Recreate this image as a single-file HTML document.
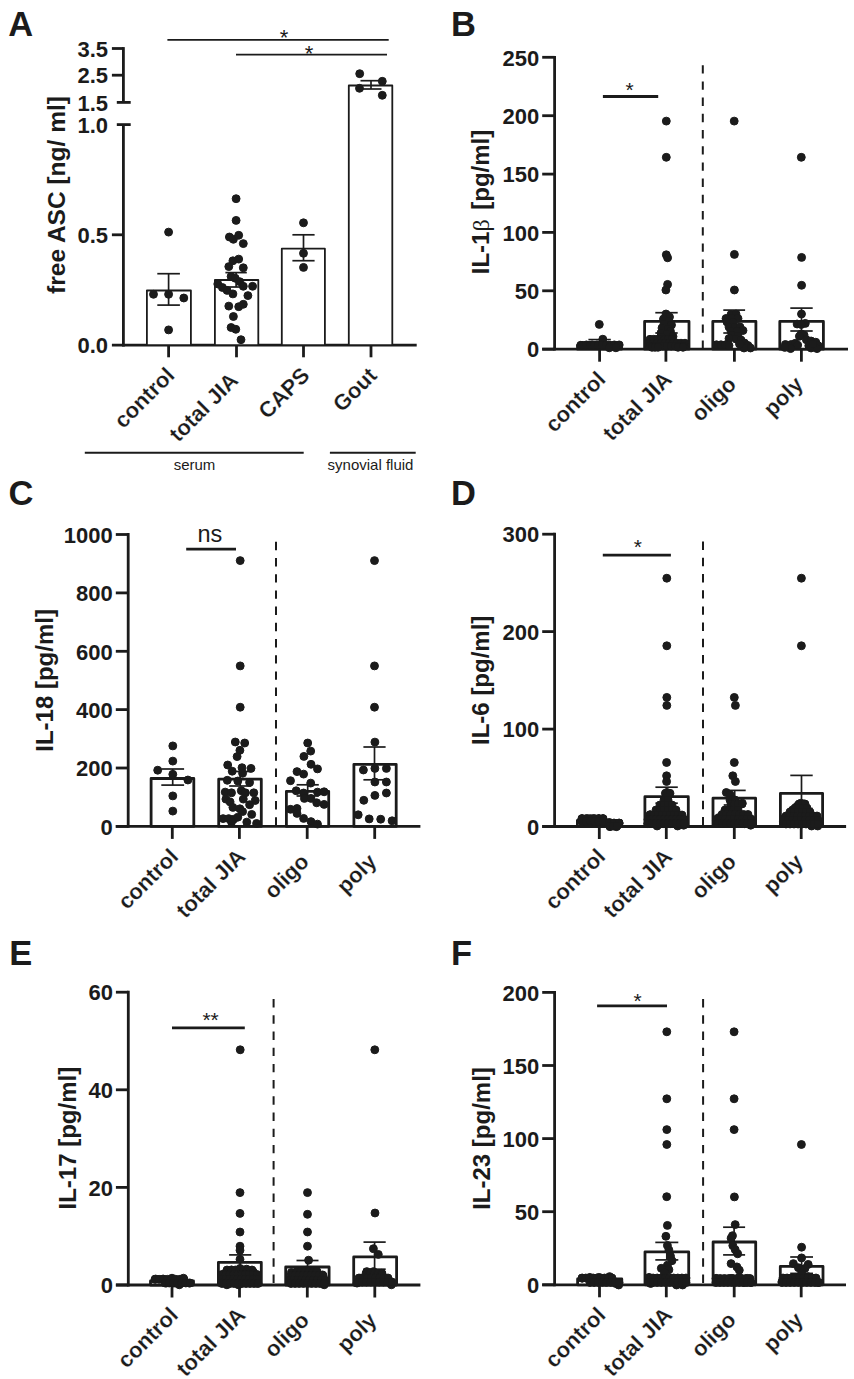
<!DOCTYPE html>
<html><head><meta charset="utf-8"><style>
html,body{margin:0;padding:0;background:#fff;}
svg{display:block;}
text{font-family:"Liberation Sans",sans-serif;fill:#1b1b1b;stroke:none;}
.xl{stroke:#fff;stroke-width:0.2px;}
</style></head><body>
<svg width="854" height="1379" viewBox="0 0 854 1379">
<rect width="854" height="1379" fill="#fff"/>
<g stroke="#1b1b1b" fill="#1b1b1b">
<text x="8.2" y="35.8" font-size="34.5" font-weight="bold">A</text>
<line x1="123.4" y1="47.1" x2="123.4" y2="102.4" stroke-width="2.8" />
<line x1="111.9" y1="48.5" x2="123.4" y2="48.5" stroke-width="2.8" />
<text x="108.0" y="56.7" font-size="22" text-anchor="end" font-weight="bold" >3.5</text>
<line x1="111.9" y1="75.2" x2="123.4" y2="75.2" stroke-width="2.8" />
<text x="108.0" y="83.4" font-size="22" text-anchor="end" font-weight="bold" >2.5</text>
<line x1="116.8" y1="102.4" x2="130.7" y2="102.4" stroke-width="2.8" />
<text x="108.0" y="110.6" font-size="22" text-anchor="end" font-weight="bold" >1.5</text>
<line x1="116.8" y1="124.6" x2="130.7" y2="124.6" stroke-width="2.8" />
<text x="108.0" y="132.8" font-size="22" text-anchor="end" font-weight="bold" >1.0</text>
<line x1="123.4" y1="124.6" x2="123.4" y2="346.6" stroke-width="2.8" />
<line x1="111.9" y1="234.8" x2="123.4" y2="234.8" stroke-width="2.8" />
<text x="108.0" y="243.0" font-size="22" text-anchor="end" font-weight="bold" >0.5</text>
<line x1="111.9" y1="345.2" x2="416.7" y2="345.2" stroke-width="2.8" />
<text x="108.0" y="353.4" font-size="22" text-anchor="end" font-weight="bold" >0.0</text>
<line x1="168.6" y1="345.2" x2="168.6" y2="357.3" stroke-width="2.8" />
<line x1="236.5" y1="345.2" x2="236.5" y2="357.3" stroke-width="2.8" />
<line x1="303.5" y1="345.2" x2="303.5" y2="357.3" stroke-width="2.8" />
<line x1="371.0" y1="345.2" x2="371.0" y2="357.3" stroke-width="2.8" />
<text transform="translate(65.0,195.0) rotate(-90)" font-size="24.5" font-weight="bold" text-anchor="middle" >free ASC [ng/ ml]</text>
<rect x="146.9" y="290.5" width="44.0" height="54.7" fill="#fff" stroke="#1b1b1b" stroke-width="1.8" stroke-linejoin="round"/>
<rect x="214.9" y="280.0" width="43.4" height="65.2" fill="#fff" stroke="#1b1b1b" stroke-width="1.8" stroke-linejoin="round"/>
<rect x="281.8" y="248.7" width="43.1" height="96.5" fill="#fff" stroke="#1b1b1b" stroke-width="1.8" stroke-linejoin="round"/>
<rect x="348.8" y="85.5" width="43.5" height="259.7" fill="#fff" stroke="#1b1b1b" stroke-width="1.8" stroke-linejoin="round"/>
<line x1="168.6" y1="273.7" x2="168.6" y2="305.1" stroke-width="1.7" />
<line x1="157.3" y1="273.7" x2="179.9" y2="273.7" stroke-width="1.7" />
<line x1="157.3" y1="305.1" x2="179.9" y2="305.1" stroke-width="1.7" />
<line x1="236.1" y1="272.6" x2="236.1" y2="287.0" stroke-width="1.7" />
<line x1="225.4" y1="272.6" x2="246.8" y2="272.6" stroke-width="1.7" />
<line x1="225.4" y1="287.0" x2="246.8" y2="287.0" stroke-width="1.7" />
<line x1="303.5" y1="234.8" x2="303.5" y2="260.7" stroke-width="1.7" />
<line x1="292.4" y1="234.8" x2="314.6" y2="234.8" stroke-width="1.7" />
<line x1="292.4" y1="260.7" x2="314.6" y2="260.7" stroke-width="1.7" />
<line x1="371.0" y1="80.7" x2="371.0" y2="89.0" stroke-width="1.7" />
<line x1="360.5" y1="80.7" x2="381.5" y2="80.7" stroke-width="1.7" />
<line x1="360.5" y1="89.0" x2="381.5" y2="89.0" stroke-width="1.7" />
<circle cx="168.6" cy="232.1" r="3.95"/>
<circle cx="153.5" cy="294.3" r="3.95"/>
<circle cx="168.6" cy="294.3" r="3.95"/>
<circle cx="183.8" cy="298.0" r="3.95"/>
<circle cx="168.6" cy="329.9" r="3.95"/>
<circle cx="303.5" cy="222.8" r="3.95"/>
<circle cx="303.5" cy="253.3" r="3.95"/>
<circle cx="303.5" cy="267.4" r="3.95"/>
<circle cx="359.7" cy="73.7" r="3.95"/>
<circle cx="382.3" cy="81.3" r="3.95"/>
<circle cx="359.5" cy="88.3" r="3.95"/>
<circle cx="382.3" cy="95.3" r="3.95"/>
<circle cx="236.1" cy="198.7" r="3.95"/>
<circle cx="236.1" cy="220.4" r="3.95"/>
<circle cx="229.4" cy="237.0" r="3.95"/>
<circle cx="233.4" cy="239.3" r="3.95"/>
<circle cx="238.7" cy="235.3" r="3.95"/>
<circle cx="243.3" cy="243.6" r="3.95"/>
<circle cx="232.9" cy="260.8" r="3.95"/>
<circle cx="238.7" cy="259.1" r="3.95"/>
<circle cx="228.8" cy="266.6" r="3.95"/>
<circle cx="243.3" cy="267.8" r="3.95"/>
<circle cx="231.1" cy="276.5" r="3.95"/>
<circle cx="235.2" cy="278.2" r="3.95"/>
<circle cx="239.8" cy="281.7" r="3.95"/>
<circle cx="243.3" cy="286.3" r="3.95"/>
<circle cx="217.8" cy="284.0" r="3.95"/>
<circle cx="222.4" cy="287.5" r="3.95"/>
<circle cx="227.1" cy="290.4" r="3.95"/>
<circle cx="232.9" cy="293.9" r="3.95"/>
<circle cx="252.6" cy="286.3" r="3.95"/>
<circle cx="247.9" cy="295.6" r="3.95"/>
<circle cx="228.8" cy="306.1" r="3.95"/>
<circle cx="238.7" cy="306.7" r="3.95"/>
<circle cx="243.3" cy="304.3" r="3.95"/>
<circle cx="233.4" cy="316.5" r="3.95"/>
<circle cx="231.1" cy="327.5" r="3.95"/>
<circle cx="235.8" cy="329.3" r="3.95"/>
<circle cx="241.0" cy="339.7" r="3.95"/>
<line x1="167.4" y1="39.9" x2="388.7" y2="39.9" stroke-width="1.9" />
<text x="284.1" y="44.8" font-size="22" text-anchor="middle" font-weight="normal" >*</text>
<line x1="236.0" y1="54.6" x2="387.0" y2="54.6" stroke-width="1.9" />
<text x="309.0" y="61.0" font-size="22" text-anchor="middle" font-weight="normal" >*</text>
<text transform="translate(175.9,376.7) rotate(-45)" font-size="22" font-weight="bold" text-anchor="end" class="xl">control</text>
<text transform="translate(239.6,381.7) rotate(-45)" font-size="22" font-weight="bold" text-anchor="end" class="xl">total JIA</text>
<text transform="translate(310.8,376.7) rotate(-45)" font-size="22" font-weight="bold" text-anchor="end" class="xl">CAPS</text>
<text transform="translate(378.3,376.7) rotate(-45)" font-size="22" font-weight="bold" text-anchor="end" class="xl">Gout</text>
<line x1="84.8" y1="452.8" x2="303.7" y2="452.8" stroke-width="2" />
<line x1="329.9" y1="452.8" x2="415.7" y2="452.8" stroke-width="2" />
<text x="194.5" y="470.0" font-size="15" text-anchor="middle" font-weight="normal" >serum</text>
<text x="370.5" y="470.0" font-size="15" text-anchor="middle" font-weight="normal" >synovial fluid</text>
<text x="451" y="36.3" font-size="34.5" font-weight="bold">B</text>
<line x1="554.6" y1="55.9" x2="554.6" y2="350.6" stroke-width="2.8" />
<line x1="542.2" y1="349.2" x2="554.6" y2="349.2" stroke-width="2.8" />
<text x="539.2" y="357.4" font-size="22" text-anchor="end" font-weight="bold" >0</text>
<line x1="542.2" y1="290.8" x2="554.6" y2="290.8" stroke-width="2.8" />
<text x="539.2" y="299.0" font-size="22" text-anchor="end" font-weight="bold" >50</text>
<line x1="542.2" y1="232.4" x2="554.6" y2="232.4" stroke-width="2.8" />
<text x="539.2" y="240.6" font-size="22" text-anchor="end" font-weight="bold" >100</text>
<line x1="542.2" y1="174.1" x2="554.6" y2="174.1" stroke-width="2.8" />
<text x="539.2" y="182.3" font-size="22" text-anchor="end" font-weight="bold" >150</text>
<line x1="542.2" y1="115.7" x2="554.6" y2="115.7" stroke-width="2.8" />
<text x="539.2" y="123.9" font-size="22" text-anchor="end" font-weight="bold" >200</text>
<line x1="542.2" y1="57.3" x2="554.6" y2="57.3" stroke-width="2.8" />
<text x="539.2" y="65.5" font-size="22" text-anchor="end" font-weight="bold" >250</text>
<line x1="542.2" y1="349.2" x2="848.0" y2="349.2" stroke-width="2.8" />
<line x1="599.6" y1="349.2" x2="599.6" y2="361.7" stroke-width="2.8" />
<line x1="665.9" y1="349.2" x2="665.9" y2="361.7" stroke-width="2.8" />
<line x1="734.4" y1="349.2" x2="734.4" y2="361.7" stroke-width="2.8" />
<line x1="801.4" y1="349.2" x2="801.4" y2="361.7" stroke-width="2.8" />
<line x1="702.8" y1="65.2" x2="702.8" y2="349.2" stroke-width="2" stroke-dasharray="8.4 7.8"/>
<line x1="602.9" y1="96.5" x2="658.2" y2="96.5" stroke-width="2.8" />
<text x="629.7" y="97.0" font-size="21" text-anchor="middle" font-weight="normal" >*</text>
<rect x="577.5" y="345.5" width="44.0" height="3.7" fill="#fff" stroke="#1b1b1b" stroke-width="2.8" stroke-linejoin="round"/>
<rect x="644.6" y="321.4" width="44.4" height="27.8" fill="#fff" stroke="#1b1b1b" stroke-width="2.8" stroke-linejoin="round"/>
<rect x="712.8" y="321.4" width="43.1" height="27.8" fill="#fff" stroke="#1b1b1b" stroke-width="2.8" stroke-linejoin="round"/>
<rect x="779.8" y="321.4" width="43.6" height="27.8" fill="#fff" stroke="#1b1b1b" stroke-width="2.8" stroke-linejoin="round"/>
<line x1="599.6" y1="339.6" x2="599.6" y2="349.0" stroke-width="1.7" />
<line x1="588.4" y1="339.6" x2="610.8" y2="339.6" stroke-width="1.7" />
<line x1="588.4" y1="349.0" x2="610.8" y2="349.0" stroke-width="1.7" />
<line x1="666.5" y1="312.7" x2="666.5" y2="333.0" stroke-width="1.7" />
<line x1="655.3" y1="312.7" x2="677.7" y2="312.7" stroke-width="1.7" />
<line x1="655.3" y1="333.0" x2="677.7" y2="333.0" stroke-width="1.7" />
<line x1="734.2" y1="310.1" x2="734.2" y2="333.0" stroke-width="1.7" />
<line x1="723.3" y1="310.1" x2="745.1" y2="310.1" stroke-width="1.7" />
<line x1="723.3" y1="333.0" x2="745.1" y2="333.0" stroke-width="1.7" />
<line x1="801.5" y1="308.1" x2="801.5" y2="331.0" stroke-width="1.7" />
<line x1="790.3" y1="308.1" x2="812.7" y2="308.1" stroke-width="1.7" />
<line x1="790.3" y1="331.0" x2="812.7" y2="331.0" stroke-width="1.7" />
<circle cx="599.3" cy="324.4" r="3.95"/>
<circle cx="580.7" cy="345.3" r="3.95"/>
<circle cx="586.4" cy="344.9" r="3.95"/>
<circle cx="592.1" cy="344.9" r="3.95"/>
<circle cx="597.0" cy="344.9" r="3.95"/>
<circle cx="602.8" cy="339.2" r="3.95"/>
<circle cx="602.8" cy="344.9" r="3.95"/>
<circle cx="608.5" cy="345.3" r="3.95"/>
<circle cx="614.3" cy="344.9" r="3.95"/>
<circle cx="619.2" cy="344.9" r="3.95"/>
<circle cx="666.3" cy="121.1" r="3.95"/>
<circle cx="666.3" cy="157.3" r="3.95"/>
<circle cx="666.3" cy="254.8" r="3.95"/>
<circle cx="667.6" cy="257.8" r="3.95"/>
<circle cx="667.6" cy="284.4" r="3.95"/>
<circle cx="665.9" cy="290.0" r="3.95"/>
<circle cx="666.0" cy="314.0" r="3.95"/>
<circle cx="669.5" cy="317.0" r="3.95"/>
<circle cx="663.5" cy="319.0" r="3.95"/>
<circle cx="669.0" cy="321.0" r="3.95"/>
<circle cx="664.0" cy="324.0" r="3.95"/>
<circle cx="671.5" cy="325.0" r="3.95"/>
<circle cx="662.0" cy="328.0" r="3.95"/>
<circle cx="668.0" cy="329.0" r="3.95"/>
<circle cx="670.5" cy="331.5" r="3.95"/>
<circle cx="661.0" cy="333.0" r="3.95"/>
<circle cx="667.0" cy="334.0" r="3.95"/>
<circle cx="673.0" cy="336.5" r="3.95"/>
<circle cx="661.0" cy="337.0" r="3.95"/>
<circle cx="734.2" cy="121.1" r="3.95"/>
<circle cx="734.4" cy="254.4" r="3.95"/>
<circle cx="734.4" cy="290.0" r="3.95"/>
<circle cx="731.0" cy="314.5" r="3.95"/>
<circle cx="736.0" cy="314.0" r="3.95"/>
<circle cx="726.0" cy="318.5" r="3.95"/>
<circle cx="732.0" cy="318.5" r="3.95"/>
<circle cx="738.0" cy="318.5" r="3.95"/>
<circle cx="727.0" cy="322.0" r="3.95"/>
<circle cx="733.0" cy="322.5" r="3.95"/>
<circle cx="729.0" cy="327.0" r="3.95"/>
<circle cx="735.0" cy="327.0" r="3.95"/>
<circle cx="740.0" cy="327.0" r="3.95"/>
<circle cx="743.0" cy="330.5" r="3.95"/>
<circle cx="731.0" cy="331.0" r="3.95"/>
<circle cx="737.0" cy="331.5" r="3.95"/>
<circle cx="732.0" cy="335.5" r="3.95"/>
<circle cx="738.0" cy="336.0" r="3.95"/>
<circle cx="729.0" cy="338.5" r="3.95"/>
<circle cx="736.0" cy="339.0" r="3.95"/>
<circle cx="741.0" cy="340.0" r="3.95"/>
<circle cx="744.5" cy="343.0" r="3.95"/>
<circle cx="748.0" cy="345.5" r="3.95"/>
<circle cx="750.5" cy="348.0" r="3.95"/>
<circle cx="744.0" cy="348.0" r="3.95"/>
<circle cx="739.5" cy="344.0" r="3.95"/>
<circle cx="716.5" cy="344.8" r="3.95"/>
<circle cx="721.0" cy="344.8" r="3.95"/>
<circle cx="725.5" cy="344.8" r="3.95"/>
<circle cx="729.0" cy="345.5" r="3.95"/>
<circle cx="801.3" cy="157.3" r="3.95"/>
<circle cx="801.6" cy="257.4" r="3.95"/>
<circle cx="801.6" cy="285.3" r="3.95"/>
<circle cx="801.5" cy="314.0" r="3.95"/>
<circle cx="797.1" cy="324.0" r="3.95"/>
<circle cx="805.3" cy="323.4" r="3.95"/>
<circle cx="801.2" cy="324.5" r="3.95"/>
<circle cx="801.2" cy="334.0" r="3.95"/>
<circle cx="804.1" cy="335.1" r="3.95"/>
<circle cx="799.4" cy="336.3" r="3.95"/>
<circle cx="806.4" cy="339.8" r="3.95"/>
<circle cx="811.1" cy="341.0" r="3.95"/>
<circle cx="815.8" cy="342.2" r="3.95"/>
<circle cx="818.2" cy="345.7" r="3.95"/>
<circle cx="808.8" cy="345.7" r="3.95"/>
<circle cx="811.1" cy="348.0" r="3.95"/>
<circle cx="817.0" cy="348.6" r="3.95"/>
<circle cx="813.0" cy="344.0" r="3.95"/>
<circle cx="785.4" cy="344.5" r="3.95"/>
<circle cx="791.2" cy="344.5" r="3.95"/>
<circle cx="795.3" cy="343.3" r="3.95"/>
<circle cx="797.7" cy="345.1" r="3.95"/>
<circle cx="790.6" cy="348.6" r="3.95"/>
<circle cx="784.8" cy="347.4" r="3.95"/>
<text transform="translate(489.4,202.0) rotate(-90)" font-size="24" font-weight="bold" text-anchor="middle" >IL-1<tspan font-family="Liberation Serif" font-weight="normal">β</tspan> <tspan dx="3">[pg/ml]</tspan></text>
<text transform="translate(606.9,380.7) rotate(-45)" font-size="22" font-weight="bold" text-anchor="end" class="xl">control</text>
<text transform="translate(673.2,380.7) rotate(-45)" font-size="22" font-weight="bold" text-anchor="end" class="xl">total JIA</text>
<text transform="translate(737.5,385.7) rotate(-45)" font-size="22" font-weight="bold" text-anchor="end" class="xl">oligo</text>
<text transform="translate(804.5,385.7) rotate(-45)" font-size="22" font-weight="bold" text-anchor="end" class="xl">poly</text>
<text x="8.5" y="504.8" font-size="34.5" font-weight="bold">C</text>
<line x1="128.2" y1="533.1" x2="128.2" y2="827.8" stroke-width="2.8" />
<line x1="115.8" y1="826.4" x2="128.2" y2="826.4" stroke-width="2.8" />
<text x="112.8" y="834.6" font-size="22" text-anchor="end" font-weight="bold" >0</text>
<line x1="115.8" y1="768.0" x2="128.2" y2="768.0" stroke-width="2.8" />
<text x="112.8" y="776.2" font-size="22" text-anchor="end" font-weight="bold" >200</text>
<line x1="115.8" y1="709.6" x2="128.2" y2="709.6" stroke-width="2.8" />
<text x="112.8" y="717.8" font-size="22" text-anchor="end" font-weight="bold" >400</text>
<line x1="115.8" y1="651.3" x2="128.2" y2="651.3" stroke-width="2.8" />
<text x="112.8" y="659.5" font-size="22" text-anchor="end" font-weight="bold" >600</text>
<line x1="115.8" y1="592.9" x2="128.2" y2="592.9" stroke-width="2.8" />
<text x="112.8" y="601.1" font-size="22" text-anchor="end" font-weight="bold" >800</text>
<line x1="115.8" y1="534.5" x2="128.2" y2="534.5" stroke-width="2.8" />
<text x="112.8" y="542.7" font-size="22" text-anchor="end" font-weight="bold" >1000</text>
<line x1="115.8" y1="826.4" x2="420.4" y2="826.4" stroke-width="2.8" />
<line x1="172.3" y1="826.4" x2="172.3" y2="838.9" stroke-width="2.8" />
<line x1="239.4" y1="826.4" x2="239.4" y2="838.9" stroke-width="2.8" />
<line x1="307.2" y1="826.4" x2="307.2" y2="838.9" stroke-width="2.8" />
<line x1="374.7" y1="826.4" x2="374.7" y2="838.9" stroke-width="2.8" />
<line x1="276" y1="541.8" x2="276" y2="826.4" stroke-width="2" stroke-dasharray="8.4 7.8"/>
<line x1="186.2" y1="549.2" x2="236.0" y2="549.2" stroke-width="2.8" />
<text x="209.8" y="542.4" font-size="23.5" text-anchor="middle" font-weight="normal" >ns</text>
<rect x="151.1" y="778.5" width="42.7" height="47.9" fill="#fff" stroke="#1b1b1b" stroke-width="2.8" stroke-linejoin="round"/>
<rect x="218.7" y="779.2" width="42.6" height="47.2" fill="#fff" stroke="#1b1b1b" stroke-width="2.8" stroke-linejoin="round"/>
<rect x="286.4" y="791.3" width="42.3" height="35.1" fill="#fff" stroke="#1b1b1b" stroke-width="2.8" stroke-linejoin="round"/>
<rect x="353.9" y="764.3" width="42.3" height="62.1" fill="#fff" stroke="#1b1b1b" stroke-width="2.8" stroke-linejoin="round"/>
<line x1="172.7" y1="769.0" x2="172.7" y2="785.1" stroke-width="1.7" />
<line x1="161.3" y1="769.0" x2="184.1" y2="769.0" stroke-width="1.7" />
<line x1="161.3" y1="785.1" x2="184.1" y2="785.1" stroke-width="1.7" />
<line x1="240.2" y1="771.5" x2="240.2" y2="786.0" stroke-width="1.7" />
<line x1="229.2" y1="771.5" x2="251.2" y2="771.5" stroke-width="1.7" />
<line x1="229.2" y1="786.0" x2="251.2" y2="786.0" stroke-width="1.7" />
<line x1="307.7" y1="784.8" x2="307.7" y2="796.0" stroke-width="1.7" />
<line x1="296.6" y1="784.8" x2="318.8" y2="784.8" stroke-width="1.7" />
<line x1="296.6" y1="796.0" x2="318.8" y2="796.0" stroke-width="1.7" />
<line x1="374.5" y1="747.0" x2="374.5" y2="779.8" stroke-width="1.7" />
<line x1="363.4" y1="747.0" x2="385.6" y2="747.0" stroke-width="1.7" />
<line x1="363.4" y1="779.8" x2="385.6" y2="779.8" stroke-width="1.7" />
<circle cx="172.8" cy="745.9" r="3.95"/>
<circle cx="172.8" cy="761.1" r="3.95"/>
<circle cx="157.7" cy="770.2" r="3.95"/>
<circle cx="172.8" cy="774.3" r="3.95"/>
<circle cx="187.9" cy="780.0" r="3.95"/>
<circle cx="172.8" cy="795.9" r="3.95"/>
<circle cx="172.8" cy="811.1" r="3.95"/>
<circle cx="240.2" cy="560.6" r="3.95"/>
<circle cx="240.2" cy="665.9" r="3.95"/>
<circle cx="240.2" cy="707.2" r="3.95"/>
<circle cx="235.3" cy="742.0" r="3.95"/>
<circle cx="244.7" cy="743.0" r="3.95"/>
<circle cx="239.9" cy="750.3" r="3.95"/>
<circle cx="237.1" cy="756.6" r="3.95"/>
<circle cx="227.7" cy="765.0" r="3.95"/>
<circle cx="232.2" cy="771.2" r="3.95"/>
<circle cx="242.0" cy="767.7" r="3.95"/>
<circle cx="251.0" cy="768.4" r="3.95"/>
<circle cx="242.6" cy="773.3" r="3.95"/>
<circle cx="227.3" cy="780.3" r="3.95"/>
<circle cx="237.8" cy="781.0" r="3.95"/>
<circle cx="249.6" cy="782.4" r="3.95"/>
<circle cx="225.2" cy="792.1" r="3.95"/>
<circle cx="231.5" cy="792.8" r="3.95"/>
<circle cx="241.3" cy="790.7" r="3.95"/>
<circle cx="245.4" cy="792.8" r="3.95"/>
<circle cx="253.8" cy="792.8" r="3.95"/>
<circle cx="225.9" cy="799.1" r="3.95"/>
<circle cx="230.1" cy="801.9" r="3.95"/>
<circle cx="243.3" cy="799.1" r="3.95"/>
<circle cx="255.2" cy="800.5" r="3.95"/>
<circle cx="249.6" cy="804.7" r="3.95"/>
<circle cx="232.9" cy="807.4" r="3.95"/>
<circle cx="239.9" cy="808.8" r="3.95"/>
<circle cx="242.6" cy="811.6" r="3.95"/>
<circle cx="251.7" cy="814.4" r="3.95"/>
<circle cx="223.1" cy="818.6" r="3.95"/>
<circle cx="228.7" cy="818.6" r="3.95"/>
<circle cx="233.6" cy="819.3" r="3.95"/>
<circle cx="237.8" cy="817.2" r="3.95"/>
<circle cx="246.8" cy="822.1" r="3.95"/>
<circle cx="256.6" cy="823.5" r="3.95"/>
<circle cx="231.5" cy="822.1" r="3.95"/>
<circle cx="307.7" cy="743.0" r="3.95"/>
<circle cx="310.7" cy="751.1" r="3.95"/>
<circle cx="303.9" cy="756.4" r="3.95"/>
<circle cx="311.0" cy="764.3" r="3.95"/>
<circle cx="317.5" cy="768.9" r="3.95"/>
<circle cx="297.0" cy="771.6" r="3.95"/>
<circle cx="303.6" cy="774.1" r="3.95"/>
<circle cx="290.5" cy="780.7" r="3.95"/>
<circle cx="310.7" cy="783.1" r="3.95"/>
<circle cx="296.2" cy="790.8" r="3.95"/>
<circle cx="303.6" cy="793.0" r="3.95"/>
<circle cx="317.5" cy="792.1" r="3.95"/>
<circle cx="324.1" cy="791.8" r="3.95"/>
<circle cx="304.4" cy="798.4" r="3.95"/>
<circle cx="311.0" cy="798.4" r="3.95"/>
<circle cx="316.7" cy="802.8" r="3.95"/>
<circle cx="324.1" cy="804.4" r="3.95"/>
<circle cx="290.5" cy="809.3" r="3.95"/>
<circle cx="297.0" cy="808.5" r="3.95"/>
<circle cx="297.0" cy="813.4" r="3.95"/>
<circle cx="303.6" cy="818.4" r="3.95"/>
<circle cx="311.0" cy="821.6" r="3.95"/>
<circle cx="317.5" cy="824.1" r="3.95"/>
<circle cx="374.5" cy="560.6" r="3.95"/>
<circle cx="374.5" cy="665.9" r="3.95"/>
<circle cx="374.5" cy="707.2" r="3.95"/>
<circle cx="374.9" cy="742.1" r="3.95"/>
<circle cx="363.4" cy="770.0" r="3.95"/>
<circle cx="374.9" cy="768.4" r="3.95"/>
<circle cx="386.4" cy="768.4" r="3.95"/>
<circle cx="374.9" cy="782.0" r="3.95"/>
<circle cx="386.4" cy="782.0" r="3.95"/>
<circle cx="374.9" cy="795.4" r="3.95"/>
<circle cx="386.4" cy="793.0" r="3.95"/>
<circle cx="363.8" cy="800.3" r="3.95"/>
<circle cx="358.2" cy="814.8" r="3.95"/>
<circle cx="369.2" cy="818.9" r="3.95"/>
<circle cx="380.7" cy="819.2" r="3.95"/>
<circle cx="392.1" cy="820.8" r="3.95"/>
<text transform="translate(52.6,680.4) rotate(-90)" font-size="24" font-weight="bold" text-anchor="middle" >IL-18 [pg/ml]</text>
<text transform="translate(179.6,857.9) rotate(-45)" font-size="22" font-weight="bold" text-anchor="end" class="xl">control</text>
<text transform="translate(246.7,857.9) rotate(-45)" font-size="22" font-weight="bold" text-anchor="end" class="xl">total JIA</text>
<text transform="translate(310.3,862.9) rotate(-45)" font-size="22" font-weight="bold" text-anchor="end" class="xl">oligo</text>
<text transform="translate(377.8,862.9) rotate(-45)" font-size="22" font-weight="bold" text-anchor="end" class="xl">poly</text>
<text x="451" y="505" font-size="34.5" font-weight="bold">D</text>
<line x1="554.6" y1="532.8" x2="554.6" y2="827.9" stroke-width="2.8" />
<line x1="542.2" y1="826.5" x2="554.6" y2="826.5" stroke-width="2.8" />
<text x="539.2" y="834.7" font-size="22" text-anchor="end" font-weight="bold" >0</text>
<line x1="542.2" y1="729.1" x2="554.6" y2="729.1" stroke-width="2.8" />
<text x="539.2" y="737.3" font-size="22" text-anchor="end" font-weight="bold" >100</text>
<line x1="542.2" y1="631.6" x2="554.6" y2="631.6" stroke-width="2.8" />
<text x="539.2" y="639.8" font-size="22" text-anchor="end" font-weight="bold" >200</text>
<line x1="542.2" y1="534.2" x2="554.6" y2="534.2" stroke-width="2.8" />
<text x="539.2" y="542.4" font-size="22" text-anchor="end" font-weight="bold" >300</text>
<line x1="542.2" y1="826.5" x2="846.1" y2="826.5" stroke-width="2.8" />
<line x1="599.3" y1="826.5" x2="599.3" y2="839.0" stroke-width="2.8" />
<line x1="666.3" y1="826.5" x2="666.3" y2="839.0" stroke-width="2.8" />
<line x1="734.3" y1="826.5" x2="734.3" y2="839.0" stroke-width="2.8" />
<line x1="801.2" y1="826.5" x2="801.2" y2="839.0" stroke-width="2.8" />
<line x1="703" y1="541.6" x2="703" y2="826.5" stroke-width="2" stroke-dasharray="8.4 7.8"/>
<line x1="602.8" y1="555.1" x2="670.9" y2="555.1" stroke-width="2.8" />
<text x="637.8" y="553.9" font-size="21" text-anchor="middle" font-weight="normal" >*</text>
<rect x="577.4" y="820.5" width="43.6" height="6.0" fill="#fff" stroke="#1b1b1b" stroke-width="2.8" stroke-linejoin="round"/>
<rect x="644.9" y="796.7" width="43.4" height="29.8" fill="#fff" stroke="#1b1b1b" stroke-width="2.8" stroke-linejoin="round"/>
<rect x="713.0" y="798.2" width="42.6" height="28.3" fill="#fff" stroke="#1b1b1b" stroke-width="2.8" stroke-linejoin="round"/>
<rect x="780.4" y="793.3" width="42.2" height="33.2" fill="#fff" stroke="#1b1b1b" stroke-width="2.8" stroke-linejoin="round"/>
<line x1="666.6" y1="787.2" x2="666.6" y2="803.2" stroke-width="1.7" />
<line x1="655.4" y1="787.2" x2="677.8" y2="787.2" stroke-width="1.7" />
<line x1="655.4" y1="803.2" x2="677.8" y2="803.2" stroke-width="1.7" />
<line x1="734.7" y1="790.4" x2="734.7" y2="805.0" stroke-width="1.7" />
<line x1="723.7" y1="790.4" x2="745.7" y2="790.4" stroke-width="1.7" />
<line x1="723.7" y1="805.0" x2="745.7" y2="805.0" stroke-width="1.7" />
<line x1="801.5" y1="775.4" x2="801.5" y2="808.5" stroke-width="1.7" />
<line x1="790.3" y1="775.4" x2="812.7" y2="775.4" stroke-width="1.7" />
<line x1="790.3" y1="808.5" x2="812.7" y2="808.5" stroke-width="1.7" />
<circle cx="582.0" cy="818.6" r="3.95"/>
<circle cx="587.6" cy="818.6" r="3.95"/>
<circle cx="593.2" cy="818.6" r="3.95"/>
<circle cx="598.8" cy="818.6" r="3.95"/>
<circle cx="603.0" cy="818.6" r="3.95"/>
<circle cx="609.4" cy="822.5" r="3.95"/>
<circle cx="615.0" cy="823.9" r="3.95"/>
<circle cx="619.2" cy="823.2" r="3.95"/>
<circle cx="610.0" cy="826.7" r="3.95"/>
<circle cx="616.4" cy="826.7" r="3.95"/>
<circle cx="585.0" cy="822.0" r="3.95"/>
<circle cx="595.0" cy="822.0" r="3.95"/>
<circle cx="666.8" cy="578.2" r="3.95"/>
<circle cx="666.8" cy="645.8" r="3.95"/>
<circle cx="666.8" cy="697.4" r="3.95"/>
<circle cx="666.8" cy="705.4" r="3.95"/>
<circle cx="666.6" cy="762.5" r="3.95"/>
<circle cx="666.6" cy="775.8" r="3.95"/>
<circle cx="666.6" cy="781.5" r="3.95"/>
<circle cx="667.0" cy="792.5" r="3.95"/>
<circle cx="665.4" cy="793.3" r="3.95"/>
<circle cx="670.0" cy="793.3" r="3.95"/>
<circle cx="665.4" cy="800.1" r="3.95"/>
<circle cx="668.5" cy="803.2" r="3.95"/>
<circle cx="662.4" cy="805.4" r="3.95"/>
<circle cx="670.8" cy="807.0" r="3.95"/>
<circle cx="660.1" cy="810.0" r="3.95"/>
<circle cx="667.0" cy="810.0" r="3.95"/>
<circle cx="673.0" cy="810.8" r="3.95"/>
<circle cx="657.8" cy="813.8" r="3.95"/>
<circle cx="663.9" cy="813.8" r="3.95"/>
<circle cx="670.0" cy="814.6" r="3.95"/>
<circle cx="676.1" cy="813.1" r="3.95"/>
<circle cx="680.7" cy="815.3" r="3.95"/>
<circle cx="650.2" cy="814.6" r="3.95"/>
<circle cx="654.0" cy="816.1" r="3.95"/>
<circle cx="648.7" cy="819.9" r="3.95"/>
<circle cx="654.8" cy="820.7" r="3.95"/>
<circle cx="660.9" cy="819.1" r="3.95"/>
<circle cx="667.0" cy="819.1" r="3.95"/>
<circle cx="673.0" cy="819.1" r="3.95"/>
<circle cx="679.1" cy="819.9" r="3.95"/>
<circle cx="683.7" cy="819.1" r="3.95"/>
<circle cx="647.9" cy="823.7" r="3.95"/>
<circle cx="657.1" cy="826.0" r="3.95"/>
<circle cx="663.9" cy="823.7" r="3.95"/>
<circle cx="670.8" cy="823.7" r="3.95"/>
<circle cx="677.6" cy="826.0" r="3.95"/>
<circle cx="683.7" cy="825.2" r="3.95"/>
<circle cx="734.3" cy="697.4" r="3.95"/>
<circle cx="735.4" cy="705.4" r="3.95"/>
<circle cx="734.3" cy="762.5" r="3.95"/>
<circle cx="732.8" cy="775.8" r="3.95"/>
<circle cx="735.4" cy="781.5" r="3.95"/>
<circle cx="726.3" cy="792.5" r="3.95"/>
<circle cx="730.1" cy="794.8" r="3.95"/>
<circle cx="732.4" cy="799.4" r="3.95"/>
<circle cx="737.0" cy="803.2" r="3.95"/>
<circle cx="742.3" cy="803.2" r="3.95"/>
<circle cx="732.4" cy="804.7" r="3.95"/>
<circle cx="725.5" cy="810.8" r="3.95"/>
<circle cx="730.1" cy="813.8" r="3.95"/>
<circle cx="737.0" cy="813.1" r="3.95"/>
<circle cx="741.5" cy="814.6" r="3.95"/>
<circle cx="747.6" cy="816.9" r="3.95"/>
<circle cx="718.7" cy="817.6" r="3.95"/>
<circle cx="723.3" cy="819.1" r="3.95"/>
<circle cx="730.1" cy="817.6" r="3.95"/>
<circle cx="735.4" cy="818.4" r="3.95"/>
<circle cx="750.7" cy="819.9" r="3.95"/>
<circle cx="724.0" cy="823.7" r="3.95"/>
<circle cx="744.6" cy="823.7" r="3.95"/>
<circle cx="750.7" cy="825.2" r="3.95"/>
<circle cx="716.4" cy="820.7" r="3.95"/>
<circle cx="801.4" cy="578.2" r="3.95"/>
<circle cx="801.4" cy="645.8" r="3.95"/>
<circle cx="800.9" cy="803.2" r="3.95"/>
<circle cx="804.0" cy="803.9" r="3.95"/>
<circle cx="797.1" cy="806.2" r="3.95"/>
<circle cx="802.4" cy="807.7" r="3.95"/>
<circle cx="792.5" cy="810.0" r="3.95"/>
<circle cx="797.1" cy="811.5" r="3.95"/>
<circle cx="802.4" cy="810.8" r="3.95"/>
<circle cx="807.0" cy="812.3" r="3.95"/>
<circle cx="791.0" cy="813.8" r="3.95"/>
<circle cx="798.6" cy="816.1" r="3.95"/>
<circle cx="804.7" cy="815.3" r="3.95"/>
<circle cx="810.8" cy="815.3" r="3.95"/>
<circle cx="816.1" cy="816.9" r="3.95"/>
<circle cx="784.9" cy="817.6" r="3.95"/>
<circle cx="790.3" cy="817.6" r="3.95"/>
<circle cx="797.1" cy="819.9" r="3.95"/>
<circle cx="811.6" cy="820.7" r="3.95"/>
<circle cx="817.7" cy="820.7" r="3.95"/>
<circle cx="783.4" cy="821.4" r="3.95"/>
<circle cx="790.3" cy="822.9" r="3.95"/>
<circle cx="811.6" cy="826.0" r="3.95"/>
<circle cx="817.7" cy="826.0" r="3.95"/>
<circle cx="808.5" cy="822.2" r="3.95"/>
<text transform="translate(489.4,680.3) rotate(-90)" font-size="24" font-weight="bold" text-anchor="middle" >IL-6 [pg/ml]</text>
<text transform="translate(606.6,858.0) rotate(-45)" font-size="22" font-weight="bold" text-anchor="end" class="xl">control</text>
<text transform="translate(673.6,858.0) rotate(-45)" font-size="22" font-weight="bold" text-anchor="end" class="xl">total JIA</text>
<text transform="translate(737.4,863.0) rotate(-45)" font-size="22" font-weight="bold" text-anchor="end" class="xl">oligo</text>
<text transform="translate(804.3,863.0) rotate(-45)" font-size="22" font-weight="bold" text-anchor="end" class="xl">poly</text>
<text x="9.3" y="964.5" font-size="34.5" font-weight="bold">E</text>
<line x1="128.3" y1="990.8" x2="128.3" y2="1286.4" stroke-width="2.8" />
<line x1="115.9" y1="1285.0" x2="128.3" y2="1285.0" stroke-width="2.8" />
<text x="112.9" y="1293.2" font-size="22" text-anchor="end" font-weight="bold" >0</text>
<line x1="115.9" y1="1187.4" x2="128.3" y2="1187.4" stroke-width="2.8" />
<text x="112.9" y="1195.6" font-size="22" text-anchor="end" font-weight="bold" >20</text>
<line x1="115.9" y1="1089.8" x2="128.3" y2="1089.8" stroke-width="2.8" />
<text x="112.9" y="1098.0" font-size="22" text-anchor="end" font-weight="bold" >40</text>
<line x1="115.9" y1="992.2" x2="128.3" y2="992.2" stroke-width="2.8" />
<text x="112.9" y="1000.4" font-size="22" text-anchor="end" font-weight="bold" >60</text>
<line x1="115.9" y1="1285.0" x2="420.4" y2="1285.0" stroke-width="2.8" />
<line x1="172.0" y1="1285.0" x2="172.0" y2="1297.5" stroke-width="2.8" />
<line x1="239.5" y1="1285.0" x2="239.5" y2="1297.5" stroke-width="2.8" />
<line x1="307.3" y1="1285.0" x2="307.3" y2="1297.5" stroke-width="2.8" />
<line x1="374.8" y1="1285.0" x2="374.8" y2="1297.5" stroke-width="2.8" />
<line x1="273.6" y1="999.1" x2="273.6" y2="1285.0" stroke-width="2" stroke-dasharray="8.4 7.8"/>
<line x1="172.0" y1="1027.8" x2="244.8" y2="1027.8" stroke-width="2.8" />
<text x="210.6" y="1026.7" font-size="21" text-anchor="middle" font-weight="normal" >**</text>
<rect x="150.5" y="1281.0" width="43.0" height="4.0" fill="#fff" stroke="#1b1b1b" stroke-width="2.8" stroke-linejoin="round"/>
<rect x="218.4" y="1262.3" width="42.9" height="22.7" fill="#fff" stroke="#1b1b1b" stroke-width="2.8" stroke-linejoin="round"/>
<rect x="285.7" y="1267.0" width="43.4" height="18.0" fill="#fff" stroke="#1b1b1b" stroke-width="2.8" stroke-linejoin="round"/>
<rect x="353.7" y="1256.9" width="42.9" height="28.1" fill="#fff" stroke="#1b1b1b" stroke-width="2.8" stroke-linejoin="round"/>
<line x1="240.2" y1="1254.9" x2="240.2" y2="1270.0" stroke-width="1.7" />
<line x1="229.1" y1="1254.9" x2="251.3" y2="1254.9" stroke-width="1.7" />
<line x1="229.1" y1="1270.0" x2="251.3" y2="1270.0" stroke-width="1.7" />
<line x1="307.5" y1="1260.5" x2="307.5" y2="1272.0" stroke-width="1.7" />
<line x1="296.5" y1="1260.5" x2="318.5" y2="1260.5" stroke-width="1.7" />
<line x1="296.5" y1="1272.0" x2="318.5" y2="1272.0" stroke-width="1.7" />
<line x1="374.6" y1="1242.1" x2="374.6" y2="1269.2" stroke-width="1.7" />
<line x1="363.5" y1="1242.1" x2="385.7" y2="1242.1" stroke-width="1.7" />
<line x1="363.5" y1="1269.2" x2="385.7" y2="1269.2" stroke-width="1.7" />
<circle cx="155.6" cy="1279.0" r="3.95"/>
<circle cx="163.0" cy="1279.0" r="3.95"/>
<circle cx="172.0" cy="1278.2" r="3.95"/>
<circle cx="183.4" cy="1278.2" r="3.95"/>
<circle cx="175.2" cy="1283.1" r="3.95"/>
<circle cx="189.2" cy="1283.1" r="3.95"/>
<circle cx="179.3" cy="1284.8" r="3.95"/>
<circle cx="166.2" cy="1283.1" r="3.95"/>
<circle cx="240.2" cy="1049.8" r="3.95"/>
<circle cx="240.0" cy="1192.6" r="3.95"/>
<circle cx="240.0" cy="1213.4" r="3.95"/>
<circle cx="240.0" cy="1232.0" r="3.95"/>
<circle cx="240.0" cy="1246.2" r="3.95"/>
<circle cx="240.0" cy="1250.3" r="3.95"/>
<circle cx="240.0" cy="1259.3" r="3.95"/>
<circle cx="225.2" cy="1273.3" r="3.95"/>
<circle cx="231.8" cy="1270.0" r="3.95"/>
<circle cx="240.0" cy="1268.4" r="3.95"/>
<circle cx="246.6" cy="1269.2" r="3.95"/>
<circle cx="253.1" cy="1271.6" r="3.95"/>
<circle cx="254.8" cy="1278.2" r="3.95"/>
<circle cx="223.6" cy="1279.8" r="3.95"/>
<circle cx="231.8" cy="1279.0" r="3.95"/>
<circle cx="240.0" cy="1279.8" r="3.95"/>
<circle cx="248.2" cy="1278.2" r="3.95"/>
<circle cx="256.4" cy="1283.1" r="3.95"/>
<circle cx="226.9" cy="1284.8" r="3.95"/>
<circle cx="238.4" cy="1284.8" r="3.95"/>
<circle cx="307.5" cy="1192.6" r="3.95"/>
<circle cx="307.5" cy="1214.3" r="3.95"/>
<circle cx="307.5" cy="1232.0" r="3.95"/>
<circle cx="307.5" cy="1246.2" r="3.95"/>
<circle cx="308.6" cy="1260.2" r="3.95"/>
<circle cx="291.4" cy="1272.5" r="3.95"/>
<circle cx="298.0" cy="1271.6" r="3.95"/>
<circle cx="306.1" cy="1270.8" r="3.95"/>
<circle cx="316.0" cy="1271.6" r="3.95"/>
<circle cx="322.5" cy="1274.9" r="3.95"/>
<circle cx="290.6" cy="1279.8" r="3.95"/>
<circle cx="299.6" cy="1279.0" r="3.95"/>
<circle cx="312.7" cy="1278.2" r="3.95"/>
<circle cx="324.2" cy="1281.5" r="3.95"/>
<circle cx="324.2" cy="1284.8" r="3.95"/>
<circle cx="307.8" cy="1279.8" r="3.95"/>
<circle cx="374.8" cy="1049.8" r="3.95"/>
<circle cx="375.0" cy="1213.0" r="3.95"/>
<circle cx="373.4" cy="1248.7" r="3.95"/>
<circle cx="378.3" cy="1254.4" r="3.95"/>
<circle cx="366.8" cy="1271.6" r="3.95"/>
<circle cx="373.4" cy="1271.6" r="3.95"/>
<circle cx="381.6" cy="1273.3" r="3.95"/>
<circle cx="360.2" cy="1278.2" r="3.95"/>
<circle cx="368.4" cy="1278.2" r="3.95"/>
<circle cx="379.9" cy="1278.2" r="3.95"/>
<circle cx="389.8" cy="1281.5" r="3.95"/>
<circle cx="391.4" cy="1284.8" r="3.95"/>
<circle cx="357.0" cy="1283.1" r="3.95"/>
<circle cx="373.4" cy="1281.5" r="3.95"/>
<text transform="translate(76.0,1138.2) rotate(-90)" font-size="24" font-weight="bold" text-anchor="middle" >IL-17 [pg/ml]</text>
<text transform="translate(179.3,1316.5) rotate(-45)" font-size="22" font-weight="bold" text-anchor="end" class="xl">control</text>
<text transform="translate(246.8,1316.5) rotate(-45)" font-size="22" font-weight="bold" text-anchor="end" class="xl">total JIA</text>
<text transform="translate(310.4,1321.5) rotate(-45)" font-size="22" font-weight="bold" text-anchor="end" class="xl">oligo</text>
<text transform="translate(377.9,1321.5) rotate(-45)" font-size="22" font-weight="bold" text-anchor="end" class="xl">poly</text>
<text x="451" y="965" font-size="34.5" font-weight="bold">F</text>
<line x1="554.6" y1="991.0" x2="554.6" y2="1286.2" stroke-width="2.8" />
<line x1="542.2" y1="1284.8" x2="554.6" y2="1284.8" stroke-width="2.8" />
<text x="539.2" y="1293.0" font-size="22" text-anchor="end" font-weight="bold" >0</text>
<line x1="542.2" y1="1211.7" x2="554.6" y2="1211.7" stroke-width="2.8" />
<text x="539.2" y="1219.9" font-size="22" text-anchor="end" font-weight="bold" >50</text>
<line x1="542.2" y1="1138.6" x2="554.6" y2="1138.6" stroke-width="2.8" />
<text x="539.2" y="1146.8" font-size="22" text-anchor="end" font-weight="bold" >100</text>
<line x1="542.2" y1="1065.5" x2="554.6" y2="1065.5" stroke-width="2.8" />
<text x="539.2" y="1073.7" font-size="22" text-anchor="end" font-weight="bold" >150</text>
<line x1="542.2" y1="992.4" x2="554.6" y2="992.4" stroke-width="2.8" />
<text x="539.2" y="1000.6" font-size="22" text-anchor="end" font-weight="bold" >200</text>
<line x1="542.2" y1="1284.8" x2="846.0" y2="1284.8" stroke-width="2.8" />
<line x1="599.5" y1="1284.8" x2="599.5" y2="1297.3" stroke-width="2.8" />
<line x1="666.3" y1="1284.8" x2="666.3" y2="1297.3" stroke-width="2.8" />
<line x1="734.2" y1="1284.8" x2="734.2" y2="1297.3" stroke-width="2.8" />
<line x1="801.2" y1="1284.8" x2="801.2" y2="1297.3" stroke-width="2.8" />
<line x1="703.1" y1="999.1" x2="703.1" y2="1284.8" stroke-width="2" stroke-dasharray="8.4 7.8"/>
<line x1="597.1" y1="1005.9" x2="667.0" y2="1005.9" stroke-width="2.8" />
<text x="637.5" y="1008.2" font-size="21" text-anchor="middle" font-weight="normal" >*</text>
<rect x="577.6" y="1279.0" width="44.2" height="5.8" fill="#fff" stroke="#1b1b1b" stroke-width="2.8" stroke-linejoin="round"/>
<rect x="645.0" y="1251.8" width="43.7" height="33.0" fill="#fff" stroke="#1b1b1b" stroke-width="2.8" stroke-linejoin="round"/>
<rect x="713.1" y="1242.0" width="42.6" height="42.8" fill="#fff" stroke="#1b1b1b" stroke-width="2.8" stroke-linejoin="round"/>
<rect x="780.3" y="1266.4" width="42.7" height="18.4" fill="#fff" stroke="#1b1b1b" stroke-width="2.8" stroke-linejoin="round"/>
<line x1="666.8" y1="1242.4" x2="666.8" y2="1259.9" stroke-width="1.7" />
<line x1="655.3" y1="1242.4" x2="678.3" y2="1242.4" stroke-width="1.7" />
<line x1="655.3" y1="1259.9" x2="678.3" y2="1259.9" stroke-width="1.7" />
<line x1="734.1" y1="1227.2" x2="734.1" y2="1254.9" stroke-width="1.7" />
<line x1="723.1" y1="1227.2" x2="745.1" y2="1227.2" stroke-width="1.7" />
<line x1="723.1" y1="1254.9" x2="745.1" y2="1254.9" stroke-width="1.7" />
<line x1="801.6" y1="1257.0" x2="801.6" y2="1273.4" stroke-width="1.7" />
<line x1="790.2" y1="1257.0" x2="813.0" y2="1257.0" stroke-width="1.7" />
<line x1="790.2" y1="1273.4" x2="813.0" y2="1273.4" stroke-width="1.7" />
<circle cx="582.2" cy="1278.2" r="3.95"/>
<circle cx="589.8" cy="1277.4" r="3.95"/>
<circle cx="598.9" cy="1277.4" r="3.95"/>
<circle cx="609.6" cy="1276.6" r="3.95"/>
<circle cx="605.0" cy="1282.0" r="3.95"/>
<circle cx="615.7" cy="1283.5" r="3.95"/>
<circle cx="594.4" cy="1282.0" r="3.95"/>
<circle cx="618.7" cy="1285.0" r="3.95"/>
<circle cx="666.8" cy="1031.8" r="3.95"/>
<circle cx="666.8" cy="1098.8" r="3.95"/>
<circle cx="666.8" cy="1129.6" r="3.95"/>
<circle cx="666.8" cy="1144.5" r="3.95"/>
<circle cx="666.7" cy="1196.7" r="3.95"/>
<circle cx="667.4" cy="1225.4" r="3.95"/>
<circle cx="665.9" cy="1236.3" r="3.95"/>
<circle cx="667.4" cy="1245.4" r="3.95"/>
<circle cx="668.9" cy="1250.0" r="3.95"/>
<circle cx="670.5" cy="1256.1" r="3.95"/>
<circle cx="672.0" cy="1260.7" r="3.95"/>
<circle cx="667.4" cy="1265.2" r="3.95"/>
<circle cx="661.3" cy="1268.3" r="3.95"/>
<circle cx="668.9" cy="1269.8" r="3.95"/>
<circle cx="664.4" cy="1272.8" r="3.95"/>
<circle cx="649.1" cy="1277.4" r="3.95"/>
<circle cx="655.0" cy="1279.0" r="3.95"/>
<circle cx="661.3" cy="1279.0" r="3.95"/>
<circle cx="670.5" cy="1279.0" r="3.95"/>
<circle cx="679.6" cy="1279.0" r="3.95"/>
<circle cx="685.7" cy="1280.5" r="3.95"/>
<circle cx="650.7" cy="1283.5" r="3.95"/>
<circle cx="676.5" cy="1285.0" r="3.95"/>
<circle cx="682.6" cy="1285.0" r="3.95"/>
<circle cx="734.1" cy="1031.8" r="3.95"/>
<circle cx="734.1" cy="1098.8" r="3.95"/>
<circle cx="734.1" cy="1129.6" r="3.95"/>
<circle cx="734.4" cy="1196.9" r="3.95"/>
<circle cx="735.2" cy="1224.6" r="3.95"/>
<circle cx="732.5" cy="1235.7" r="3.95"/>
<circle cx="731.1" cy="1238.2" r="3.95"/>
<circle cx="732.8" cy="1245.6" r="3.95"/>
<circle cx="735.2" cy="1249.7" r="3.95"/>
<circle cx="737.7" cy="1253.8" r="3.95"/>
<circle cx="731.1" cy="1263.6" r="3.95"/>
<circle cx="736.9" cy="1266.9" r="3.95"/>
<circle cx="739.3" cy="1270.2" r="3.95"/>
<circle cx="716.4" cy="1278.4" r="3.95"/>
<circle cx="723.0" cy="1279.2" r="3.95"/>
<circle cx="731.1" cy="1278.4" r="3.95"/>
<circle cx="739.3" cy="1277.5" r="3.95"/>
<circle cx="747.5" cy="1278.4" r="3.95"/>
<circle cx="750.8" cy="1282.5" r="3.95"/>
<circle cx="744.3" cy="1282.5" r="3.95"/>
<circle cx="716.4" cy="1281.6" r="3.95"/>
<circle cx="801.4" cy="1144.5" r="3.95"/>
<circle cx="801.6" cy="1247.2" r="3.95"/>
<circle cx="801.6" cy="1257.9" r="3.95"/>
<circle cx="793.4" cy="1263.6" r="3.95"/>
<circle cx="808.2" cy="1264.4" r="3.95"/>
<circle cx="798.4" cy="1267.7" r="3.95"/>
<circle cx="804.9" cy="1268.5" r="3.95"/>
<circle cx="801.6" cy="1273.4" r="3.95"/>
<circle cx="785.2" cy="1278.4" r="3.95"/>
<circle cx="793.4" cy="1277.5" r="3.95"/>
<circle cx="808.2" cy="1276.7" r="3.95"/>
<circle cx="814.8" cy="1278.4" r="3.95"/>
<circle cx="818.0" cy="1282.5" r="3.95"/>
<circle cx="782.0" cy="1281.6" r="3.95"/>
<text transform="translate(490.4,1138.5) rotate(-90)" font-size="24" font-weight="bold" text-anchor="middle" >IL-23 [pg/ml]</text>
<text transform="translate(606.8,1316.3) rotate(-45)" font-size="22" font-weight="bold" text-anchor="end" class="xl">control</text>
<text transform="translate(673.6,1316.3) rotate(-45)" font-size="22" font-weight="bold" text-anchor="end" class="xl">total JIA</text>
<text transform="translate(737.3,1321.3) rotate(-45)" font-size="22" font-weight="bold" text-anchor="end" class="xl">oligo</text>
<text transform="translate(804.3,1321.3) rotate(-45)" font-size="22" font-weight="bold" text-anchor="end" class="xl">poly</text>
<circle cx="582.0" cy="345.3" r="3.95"/>
<circle cx="586.0" cy="345.3" r="3.95"/>
<circle cx="590.0" cy="345.3" r="3.95"/>
<circle cx="594.0" cy="345.3" r="3.95"/>
<circle cx="598.0" cy="345.3" r="3.95"/>
<circle cx="602.0" cy="345.3" r="3.95"/>
<circle cx="606.0" cy="345.3" r="3.95"/>
<circle cx="610.0" cy="345.3" r="3.95"/>
<circle cx="614.0" cy="345.3" r="3.95"/>
<circle cx="618.0" cy="345.3" r="3.95"/>
<circle cx="609.3" cy="347.8" r="3.95"/>
<circle cx="615.9" cy="347.8" r="3.95"/>
<circle cx="650.0" cy="339.3" r="3.95"/>
<circle cx="653.7" cy="339.3" r="3.95"/>
<circle cx="657.3" cy="339.3" r="3.95"/>
<circle cx="661.0" cy="339.3" r="3.95"/>
<circle cx="664.7" cy="339.3" r="3.95"/>
<circle cx="668.3" cy="339.3" r="3.95"/>
<circle cx="672.0" cy="339.3" r="3.95"/>
<circle cx="649.0" cy="343.2" r="3.95"/>
<circle cx="653.0" cy="343.2" r="3.95"/>
<circle cx="657.0" cy="343.2" r="3.95"/>
<circle cx="661.0" cy="343.2" r="3.95"/>
<circle cx="665.0" cy="343.2" r="3.95"/>
<circle cx="669.0" cy="343.2" r="3.95"/>
<circle cx="673.0" cy="343.2" r="3.95"/>
<circle cx="677.0" cy="343.2" r="3.95"/>
<circle cx="681.0" cy="343.2" r="3.95"/>
<circle cx="685.0" cy="343.2" r="3.95"/>
<circle cx="650.0" cy="346.0" r="3.95"/>
<circle cx="654.2" cy="346.0" r="3.95"/>
<circle cx="658.5" cy="346.0" r="3.95"/>
<circle cx="662.8" cy="346.0" r="3.95"/>
<circle cx="667.0" cy="346.0" r="3.95"/>
<circle cx="671.2" cy="346.0" r="3.95"/>
<circle cx="675.5" cy="346.0" r="3.95"/>
<circle cx="679.8" cy="346.0" r="3.95"/>
<circle cx="684.0" cy="346.0" r="3.95"/>
<circle cx="652.0" cy="347.3" r="3.95"/>
<circle cx="655.0" cy="347.3" r="3.95"/>
<circle cx="658.0" cy="347.3" r="3.95"/>
<circle cx="678.0" cy="347.3" r="3.95"/>
<circle cx="683.0" cy="347.3" r="3.95"/>
<circle cx="582.0" cy="818.6" r="3.95"/>
<circle cx="586.2" cy="818.6" r="3.95"/>
<circle cx="590.4" cy="818.6" r="3.95"/>
<circle cx="594.6" cy="818.6" r="3.95"/>
<circle cx="598.8" cy="818.6" r="3.95"/>
<circle cx="603.0" cy="818.6" r="3.95"/>
<circle cx="582.0" cy="821.5" r="3.95"/>
<circle cx="586.2" cy="821.5" r="3.95"/>
<circle cx="590.4" cy="821.5" r="3.95"/>
<circle cx="594.6" cy="821.5" r="3.95"/>
<circle cx="598.8" cy="821.5" r="3.95"/>
<circle cx="603.0" cy="821.5" r="3.95"/>
<circle cx="609.0" cy="823.0" r="3.95"/>
<circle cx="614.0" cy="823.0" r="3.95"/>
<circle cx="619.0" cy="823.0" r="3.95"/>
<circle cx="610.0" cy="826.0" r="3.95"/>
<circle cx="613.5" cy="826.0" r="3.95"/>
<circle cx="617.0" cy="826.0" r="3.95"/>
<circle cx="664.0" cy="800.0" r="3.95"/>
<circle cx="668.0" cy="800.0" r="3.95"/>
<circle cx="660.0" cy="805.0" r="3.95"/>
<circle cx="664.0" cy="805.0" r="3.95"/>
<circle cx="668.0" cy="805.0" r="3.95"/>
<circle cx="672.0" cy="805.0" r="3.95"/>
<circle cx="656.0" cy="810.0" r="3.95"/>
<circle cx="660.0" cy="810.0" r="3.95"/>
<circle cx="664.0" cy="810.0" r="3.95"/>
<circle cx="668.0" cy="810.0" r="3.95"/>
<circle cx="672.0" cy="810.0" r="3.95"/>
<circle cx="676.0" cy="810.0" r="3.95"/>
<circle cx="650.0" cy="815.0" r="3.95"/>
<circle cx="654.0" cy="815.0" r="3.95"/>
<circle cx="658.0" cy="815.0" r="3.95"/>
<circle cx="662.0" cy="815.0" r="3.95"/>
<circle cx="666.0" cy="815.0" r="3.95"/>
<circle cx="670.0" cy="815.0" r="3.95"/>
<circle cx="674.0" cy="815.0" r="3.95"/>
<circle cx="678.0" cy="815.0" r="3.95"/>
<circle cx="682.0" cy="815.0" r="3.95"/>
<circle cx="648.0" cy="819.5" r="3.95"/>
<circle cx="652.0" cy="819.5" r="3.95"/>
<circle cx="656.0" cy="819.5" r="3.95"/>
<circle cx="660.0" cy="819.5" r="3.95"/>
<circle cx="664.0" cy="819.5" r="3.95"/>
<circle cx="668.0" cy="819.5" r="3.95"/>
<circle cx="672.0" cy="819.5" r="3.95"/>
<circle cx="676.0" cy="819.5" r="3.95"/>
<circle cx="680.0" cy="819.5" r="3.95"/>
<circle cx="684.0" cy="819.5" r="3.95"/>
<circle cx="648.0" cy="823.5" r="3.95"/>
<circle cx="652.0" cy="823.5" r="3.95"/>
<circle cx="656.0" cy="823.5" r="3.95"/>
<circle cx="660.0" cy="823.5" r="3.95"/>
<circle cx="664.0" cy="823.5" r="3.95"/>
<circle cx="668.0" cy="823.5" r="3.95"/>
<circle cx="672.0" cy="823.5" r="3.95"/>
<circle cx="676.0" cy="823.5" r="3.95"/>
<circle cx="680.0" cy="823.5" r="3.95"/>
<circle cx="684.0" cy="823.5" r="3.95"/>
<circle cx="730.0" cy="800.0" r="3.95"/>
<circle cx="735.0" cy="800.0" r="3.95"/>
<circle cx="731.0" cy="804.0" r="3.95"/>
<circle cx="734.7" cy="804.0" r="3.95"/>
<circle cx="738.3" cy="804.0" r="3.95"/>
<circle cx="742.0" cy="804.0" r="3.95"/>
<circle cx="725.0" cy="810.0" r="3.95"/>
<circle cx="729.3" cy="810.0" r="3.95"/>
<circle cx="733.7" cy="810.0" r="3.95"/>
<circle cx="738.0" cy="810.0" r="3.95"/>
<circle cx="722.0" cy="814.5" r="3.95"/>
<circle cx="726.3" cy="814.5" r="3.95"/>
<circle cx="730.7" cy="814.5" r="3.95"/>
<circle cx="735.0" cy="814.5" r="3.95"/>
<circle cx="739.3" cy="814.5" r="3.95"/>
<circle cx="743.7" cy="814.5" r="3.95"/>
<circle cx="748.0" cy="814.5" r="3.95"/>
<circle cx="717.0" cy="819.0" r="3.95"/>
<circle cx="721.2" cy="819.0" r="3.95"/>
<circle cx="725.5" cy="819.0" r="3.95"/>
<circle cx="729.8" cy="819.0" r="3.95"/>
<circle cx="734.0" cy="819.0" r="3.95"/>
<circle cx="738.2" cy="819.0" r="3.95"/>
<circle cx="742.5" cy="819.0" r="3.95"/>
<circle cx="746.8" cy="819.0" r="3.95"/>
<circle cx="751.0" cy="819.0" r="3.95"/>
<circle cx="718.0" cy="823.5" r="3.95"/>
<circle cx="722.1" cy="823.5" r="3.95"/>
<circle cx="726.2" cy="823.5" r="3.95"/>
<circle cx="730.4" cy="823.5" r="3.95"/>
<circle cx="734.5" cy="823.5" r="3.95"/>
<circle cx="738.6" cy="823.5" r="3.95"/>
<circle cx="742.8" cy="823.5" r="3.95"/>
<circle cx="746.9" cy="823.5" r="3.95"/>
<circle cx="751.0" cy="823.5" r="3.95"/>
<circle cx="799.0" cy="804.0" r="3.95"/>
<circle cx="802.0" cy="804.0" r="3.95"/>
<circle cx="805.0" cy="804.0" r="3.95"/>
<circle cx="795.0" cy="808.0" r="3.95"/>
<circle cx="799.0" cy="808.0" r="3.95"/>
<circle cx="803.0" cy="808.0" r="3.95"/>
<circle cx="807.0" cy="808.0" r="3.95"/>
<circle cx="790.0" cy="812.0" r="3.95"/>
<circle cx="794.0" cy="812.0" r="3.95"/>
<circle cx="798.0" cy="812.0" r="3.95"/>
<circle cx="802.0" cy="812.0" r="3.95"/>
<circle cx="806.0" cy="812.0" r="3.95"/>
<circle cx="810.0" cy="812.0" r="3.95"/>
<circle cx="786.0" cy="816.0" r="3.95"/>
<circle cx="789.9" cy="816.0" r="3.95"/>
<circle cx="793.8" cy="816.0" r="3.95"/>
<circle cx="797.6" cy="816.0" r="3.95"/>
<circle cx="801.5" cy="816.0" r="3.95"/>
<circle cx="805.4" cy="816.0" r="3.95"/>
<circle cx="809.2" cy="816.0" r="3.95"/>
<circle cx="813.1" cy="816.0" r="3.95"/>
<circle cx="817.0" cy="816.0" r="3.95"/>
<circle cx="784.0" cy="820.0" r="3.95"/>
<circle cx="788.2" cy="820.0" r="3.95"/>
<circle cx="792.5" cy="820.0" r="3.95"/>
<circle cx="796.8" cy="820.0" r="3.95"/>
<circle cx="801.0" cy="820.0" r="3.95"/>
<circle cx="805.2" cy="820.0" r="3.95"/>
<circle cx="809.5" cy="820.0" r="3.95"/>
<circle cx="813.8" cy="820.0" r="3.95"/>
<circle cx="818.0" cy="820.0" r="3.95"/>
<circle cx="786.0" cy="824.0" r="3.95"/>
<circle cx="790.0" cy="824.0" r="3.95"/>
<circle cx="794.0" cy="824.0" r="3.95"/>
<circle cx="798.0" cy="824.0" r="3.95"/>
<circle cx="802.0" cy="824.0" r="3.95"/>
<circle cx="806.0" cy="824.0" r="3.95"/>
<circle cx="810.0" cy="824.0" r="3.95"/>
<circle cx="814.0" cy="824.0" r="3.95"/>
<circle cx="818.0" cy="824.0" r="3.95"/>
<circle cx="155.0" cy="1279.3" r="3.95"/>
<circle cx="159.1" cy="1279.3" r="3.95"/>
<circle cx="163.3" cy="1279.3" r="3.95"/>
<circle cx="167.4" cy="1279.3" r="3.95"/>
<circle cx="171.6" cy="1279.3" r="3.95"/>
<circle cx="175.7" cy="1279.3" r="3.95"/>
<circle cx="179.9" cy="1279.3" r="3.95"/>
<circle cx="184.0" cy="1279.3" r="3.95"/>
<circle cx="165.0" cy="1283.0" r="3.95"/>
<circle cx="169.2" cy="1283.0" r="3.95"/>
<circle cx="173.3" cy="1283.0" r="3.95"/>
<circle cx="177.5" cy="1283.0" r="3.95"/>
<circle cx="181.7" cy="1283.0" r="3.95"/>
<circle cx="185.8" cy="1283.0" r="3.95"/>
<circle cx="190.0" cy="1283.0" r="3.95"/>
<circle cx="227.0" cy="1270.0" r="3.95"/>
<circle cx="231.2" cy="1270.0" r="3.95"/>
<circle cx="235.3" cy="1270.0" r="3.95"/>
<circle cx="239.5" cy="1270.0" r="3.95"/>
<circle cx="243.7" cy="1270.0" r="3.95"/>
<circle cx="247.8" cy="1270.0" r="3.95"/>
<circle cx="252.0" cy="1270.0" r="3.95"/>
<circle cx="222.0" cy="1274.5" r="3.95"/>
<circle cx="225.9" cy="1274.5" r="3.95"/>
<circle cx="229.8" cy="1274.5" r="3.95"/>
<circle cx="233.7" cy="1274.5" r="3.95"/>
<circle cx="237.6" cy="1274.5" r="3.95"/>
<circle cx="241.4" cy="1274.5" r="3.95"/>
<circle cx="245.3" cy="1274.5" r="3.95"/>
<circle cx="249.2" cy="1274.5" r="3.95"/>
<circle cx="253.1" cy="1274.5" r="3.95"/>
<circle cx="257.0" cy="1274.5" r="3.95"/>
<circle cx="222.0" cy="1279.0" r="3.95"/>
<circle cx="225.9" cy="1279.0" r="3.95"/>
<circle cx="229.8" cy="1279.0" r="3.95"/>
<circle cx="233.7" cy="1279.0" r="3.95"/>
<circle cx="237.6" cy="1279.0" r="3.95"/>
<circle cx="241.4" cy="1279.0" r="3.95"/>
<circle cx="245.3" cy="1279.0" r="3.95"/>
<circle cx="249.2" cy="1279.0" r="3.95"/>
<circle cx="253.1" cy="1279.0" r="3.95"/>
<circle cx="257.0" cy="1279.0" r="3.95"/>
<circle cx="222.0" cy="1283.5" r="3.95"/>
<circle cx="226.0" cy="1283.5" r="3.95"/>
<circle cx="230.0" cy="1283.5" r="3.95"/>
<circle cx="234.0" cy="1283.5" r="3.95"/>
<circle cx="238.0" cy="1283.5" r="3.95"/>
<circle cx="242.0" cy="1283.5" r="3.95"/>
<circle cx="246.0" cy="1283.5" r="3.95"/>
<circle cx="250.0" cy="1283.5" r="3.95"/>
<circle cx="254.0" cy="1283.5" r="3.95"/>
<circle cx="258.0" cy="1283.5" r="3.95"/>
<circle cx="297.0" cy="1271.5" r="3.95"/>
<circle cx="301.0" cy="1271.5" r="3.95"/>
<circle cx="305.0" cy="1271.5" r="3.95"/>
<circle cx="309.0" cy="1271.5" r="3.95"/>
<circle cx="313.0" cy="1271.5" r="3.95"/>
<circle cx="317.0" cy="1271.5" r="3.95"/>
<circle cx="291.0" cy="1275.5" r="3.95"/>
<circle cx="295.0" cy="1275.5" r="3.95"/>
<circle cx="299.0" cy="1275.5" r="3.95"/>
<circle cx="303.0" cy="1275.5" r="3.95"/>
<circle cx="307.0" cy="1275.5" r="3.95"/>
<circle cx="311.0" cy="1275.5" r="3.95"/>
<circle cx="315.0" cy="1275.5" r="3.95"/>
<circle cx="319.0" cy="1275.5" r="3.95"/>
<circle cx="323.0" cy="1275.5" r="3.95"/>
<circle cx="290.0" cy="1280.0" r="3.95"/>
<circle cx="293.9" cy="1280.0" r="3.95"/>
<circle cx="297.8" cy="1280.0" r="3.95"/>
<circle cx="301.7" cy="1280.0" r="3.95"/>
<circle cx="305.6" cy="1280.0" r="3.95"/>
<circle cx="309.4" cy="1280.0" r="3.95"/>
<circle cx="313.3" cy="1280.0" r="3.95"/>
<circle cx="317.2" cy="1280.0" r="3.95"/>
<circle cx="321.1" cy="1280.0" r="3.95"/>
<circle cx="325.0" cy="1280.0" r="3.95"/>
<circle cx="291.0" cy="1283.5" r="3.95"/>
<circle cx="295.1" cy="1283.5" r="3.95"/>
<circle cx="299.2" cy="1283.5" r="3.95"/>
<circle cx="303.4" cy="1283.5" r="3.95"/>
<circle cx="307.5" cy="1283.5" r="3.95"/>
<circle cx="311.6" cy="1283.5" r="3.95"/>
<circle cx="315.8" cy="1283.5" r="3.95"/>
<circle cx="319.9" cy="1283.5" r="3.95"/>
<circle cx="324.0" cy="1283.5" r="3.95"/>
<circle cx="366.0" cy="1273.5" r="3.95"/>
<circle cx="370.0" cy="1273.5" r="3.95"/>
<circle cx="374.0" cy="1273.5" r="3.95"/>
<circle cx="378.0" cy="1273.5" r="3.95"/>
<circle cx="382.0" cy="1273.5" r="3.95"/>
<circle cx="359.0" cy="1278.0" r="3.95"/>
<circle cx="363.1" cy="1278.0" r="3.95"/>
<circle cx="367.3" cy="1278.0" r="3.95"/>
<circle cx="371.4" cy="1278.0" r="3.95"/>
<circle cx="375.6" cy="1278.0" r="3.95"/>
<circle cx="379.7" cy="1278.0" r="3.95"/>
<circle cx="383.9" cy="1278.0" r="3.95"/>
<circle cx="388.0" cy="1278.0" r="3.95"/>
<circle cx="358.0" cy="1282.0" r="3.95"/>
<circle cx="362.2" cy="1282.0" r="3.95"/>
<circle cx="366.5" cy="1282.0" r="3.95"/>
<circle cx="370.8" cy="1282.0" r="3.95"/>
<circle cx="375.0" cy="1282.0" r="3.95"/>
<circle cx="379.2" cy="1282.0" r="3.95"/>
<circle cx="383.5" cy="1282.0" r="3.95"/>
<circle cx="387.8" cy="1282.0" r="3.95"/>
<circle cx="392.0" cy="1282.0" r="3.95"/>
<circle cx="582.0" cy="1278.0" r="3.95"/>
<circle cx="585.8" cy="1278.0" r="3.95"/>
<circle cx="589.5" cy="1278.0" r="3.95"/>
<circle cx="593.2" cy="1278.0" r="3.95"/>
<circle cx="597.0" cy="1278.0" r="3.95"/>
<circle cx="600.8" cy="1278.0" r="3.95"/>
<circle cx="604.5" cy="1278.0" r="3.95"/>
<circle cx="608.2" cy="1278.0" r="3.95"/>
<circle cx="612.0" cy="1278.0" r="3.95"/>
<circle cx="590.0" cy="1282.5" r="3.95"/>
<circle cx="594.1" cy="1282.5" r="3.95"/>
<circle cx="598.3" cy="1282.5" r="3.95"/>
<circle cx="602.4" cy="1282.5" r="3.95"/>
<circle cx="606.6" cy="1282.5" r="3.95"/>
<circle cx="610.7" cy="1282.5" r="3.95"/>
<circle cx="614.9" cy="1282.5" r="3.95"/>
<circle cx="619.0" cy="1282.5" r="3.95"/>
<circle cx="649.0" cy="1278.0" r="3.95"/>
<circle cx="653.1" cy="1278.0" r="3.95"/>
<circle cx="657.2" cy="1278.0" r="3.95"/>
<circle cx="661.3" cy="1278.0" r="3.95"/>
<circle cx="665.4" cy="1278.0" r="3.95"/>
<circle cx="669.6" cy="1278.0" r="3.95"/>
<circle cx="673.7" cy="1278.0" r="3.95"/>
<circle cx="677.8" cy="1278.0" r="3.95"/>
<circle cx="681.9" cy="1278.0" r="3.95"/>
<circle cx="686.0" cy="1278.0" r="3.95"/>
<circle cx="649.0" cy="1282.5" r="3.95"/>
<circle cx="653.1" cy="1282.5" r="3.95"/>
<circle cx="657.2" cy="1282.5" r="3.95"/>
<circle cx="661.3" cy="1282.5" r="3.95"/>
<circle cx="665.4" cy="1282.5" r="3.95"/>
<circle cx="669.6" cy="1282.5" r="3.95"/>
<circle cx="673.7" cy="1282.5" r="3.95"/>
<circle cx="677.8" cy="1282.5" r="3.95"/>
<circle cx="681.9" cy="1282.5" r="3.95"/>
<circle cx="686.0" cy="1282.5" r="3.95"/>
<circle cx="716.0" cy="1278.5" r="3.95"/>
<circle cx="720.2" cy="1278.5" r="3.95"/>
<circle cx="724.5" cy="1278.5" r="3.95"/>
<circle cx="728.8" cy="1278.5" r="3.95"/>
<circle cx="733.0" cy="1278.5" r="3.95"/>
<circle cx="737.2" cy="1278.5" r="3.95"/>
<circle cx="741.5" cy="1278.5" r="3.95"/>
<circle cx="745.8" cy="1278.5" r="3.95"/>
<circle cx="750.0" cy="1278.5" r="3.95"/>
<circle cx="716.0" cy="1282.5" r="3.95"/>
<circle cx="719.9" cy="1282.5" r="3.95"/>
<circle cx="723.8" cy="1282.5" r="3.95"/>
<circle cx="727.7" cy="1282.5" r="3.95"/>
<circle cx="731.6" cy="1282.5" r="3.95"/>
<circle cx="735.4" cy="1282.5" r="3.95"/>
<circle cx="739.3" cy="1282.5" r="3.95"/>
<circle cx="743.2" cy="1282.5" r="3.95"/>
<circle cx="747.1" cy="1282.5" r="3.95"/>
<circle cx="751.0" cy="1282.5" r="3.95"/>
<circle cx="783.0" cy="1278.0" r="3.95"/>
<circle cx="787.1" cy="1278.0" r="3.95"/>
<circle cx="791.2" cy="1278.0" r="3.95"/>
<circle cx="795.4" cy="1278.0" r="3.95"/>
<circle cx="799.5" cy="1278.0" r="3.95"/>
<circle cx="803.6" cy="1278.0" r="3.95"/>
<circle cx="807.8" cy="1278.0" r="3.95"/>
<circle cx="811.9" cy="1278.0" r="3.95"/>
<circle cx="816.0" cy="1278.0" r="3.95"/>
<circle cx="782.0" cy="1282.5" r="3.95"/>
<circle cx="786.1" cy="1282.5" r="3.95"/>
<circle cx="790.2" cy="1282.5" r="3.95"/>
<circle cx="794.3" cy="1282.5" r="3.95"/>
<circle cx="798.4" cy="1282.5" r="3.95"/>
<circle cx="802.6" cy="1282.5" r="3.95"/>
<circle cx="806.7" cy="1282.5" r="3.95"/>
<circle cx="810.8" cy="1282.5" r="3.95"/>
<circle cx="814.9" cy="1282.5" r="3.95"/>
<circle cx="819.0" cy="1282.5" r="3.95"/>
</g>
</svg>
</body></html>
